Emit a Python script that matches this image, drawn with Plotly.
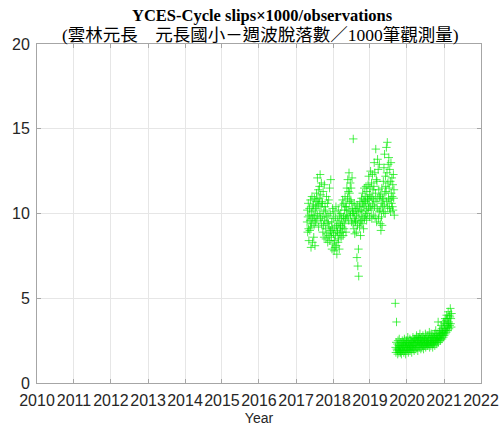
import pandas as pd
import plotly.graph_objects as go

# Daily-ish cycle-slip ratios (slips per 1000 observations), sampled every 3 days
period1_start = "2017-04-20"
period1_values = [
    9.5, 10.2, 8.9, 9.8, 10.6, 9.1, 8.4, 9.9, 10.3, 9.0,
    9.6, 10.8, 9.2, 8.0, 10.1, 9.4, 11.0, 9.7, 8.3, 10.4,
    9.9, 10.5, 8.6, 9.3, 10.9, 9.8, 8.1, 10.2, 9.5, 10.7,
    10.3, 11.2, 9.6, 10.8, 12.1, 9.9, 10.5, 11.4, 9.2, 10.6,
    10.9, 11.6, 10.0, 12.3, 9.7, 11.1, 10.4, 11.8, 9.4, 10.7,
    9.8, 10.6, 8.9, 11.3, 9.3, 10.1, 8.6, 11.7, 9.6, 10.4,
    9.1, 10.2, 8.5, 9.8, 11.0, 8.8, 9.5, 10.6, 8.3, 9.9,
    9.4, 10.8, 8.7, 9.2, 11.5, 8.4, 10.0, 9.0, 12.0, 8.9,
    8.6, 9.5, 7.9, 9.1, 10.3, 8.2, 9.7, 8.8, 10.1, 7.8,
    8.4, 9.2, 8.0, 9.8, 8.7, 10.4, 8.1, 9.3, 7.6, 9.0,
    8.9, 9.6, 8.3, 10.2, 8.5, 9.4, 7.9, 9.9, 8.8, 9.1,
    9.3, 10.0, 8.6, 9.7, 10.5, 8.9, 9.2, 10.8, 9.5, 8.7,
    9.8, 10.6, 9.1, 10.2, 9.4, 11.0, 9.7, 10.4, 8.9, 9.9,
    10.4, 11.5, 9.8, 10.9, 12.0, 10.2, 11.3, 9.6, 12.4, 10.7,
    11.2, 10.1, 11.8, 9.9, 10.8, 11.5, 9.5, 10.6, 12.1, 10.0,
    10.3, 9.4, 14.4, 10.0, 9.1, 10.6, 9.7, 8.8, 10.2, 9.5,
    9.6, 10.3, 8.9, 9.9, 7.4, 10.5, 9.3, 6.9, 10.1, 7.9,
    6.3, 9.8, 10.4, 9.2, 10.7, 9.5, 8.7, 10.2, 9.6, 10.9,
    10.1, 9.4, 10.6, 11.2, 9.8, 10.4, 9.1, 10.8, 11.5, 9.7,
    10.5, 11.0, 9.9, 10.7, 11.6, 10.2, 9.6, 11.3, 10.0, 10.8,
    10.9, 11.7, 10.3, 12.2, 10.6, 11.1, 9.8, 11.5, 10.4, 12.5,
    11.0, 10.2, 11.8, 9.7, 10.9, 12.3, 10.5, 11.4, 9.9, 10.8,
    11.6, 13.0, 10.4, 12.4, 9.8, 11.2, 13.8, 10.7, 12.0, 9.5,
    11.9, 10.3, 13.2, 10.9, 12.6, 9.7, 11.4, 10.1, 12.9, 11.0,
    10.2, 9.4, 11.1, 9.0, 10.6, 9.8, 11.5, 9.3, 10.4, 10.9,
    10.8, 11.9, 10.1, 12.7, 10.5, 13.5, 11.2, 10.0, 12.2, 11.6,
    11.3, 13.9, 10.7, 12.4, 14.2, 10.4, 11.8, 12.9, 10.9, 13.3,
    11.5, 10.3, 12.6, 10.8, 11.9, 10.1, 13.0, 11.2, 10.6, 12.1,
    11.0, 10.4, 11.7, 10.2, 12.3, 10.9, 11.4, 9.9,
]

period2_start = "2019-09-08"
period2_values = [
    4.7, 2.1, 1.8, 2.4, 3.6, 2.0,
    1.9, 2.3, 1.7, 2.5, 2.0, 2.2, 1.8, 2.6, 2.1, 1.9,
    2.2, 1.8, 2.4, 2.0, 1.7, 2.3, 2.1, 2.5, 1.9, 2.2,
    2.0, 2.4, 1.8, 2.2, 2.6, 1.9, 2.1, 2.3, 1.7, 2.4,
    2.1, 2.5, 1.9, 2.3, 2.0, 2.7, 2.2, 1.8, 2.4, 2.1,
    2.3, 2.0, 2.6, 1.9, 2.2, 2.5, 2.1, 2.4, 1.8, 2.2,
    2.4, 2.1, 2.7, 2.0, 2.3, 2.5, 1.9, 2.6, 2.2, 2.4,
    2.2, 2.6, 2.0, 2.4, 2.8, 2.1, 2.3, 2.5, 1.9, 2.7,
    2.5, 2.2, 2.7, 2.1, 2.4, 2.9, 2.3, 2.6, 2.0, 2.4,
    2.3, 2.7, 2.1, 2.5, 2.2, 2.8, 2.4, 2.0, 2.6, 2.3,
    2.6, 2.2, 2.5, 2.9, 2.1, 2.4, 2.7, 2.3, 2.5, 2.2,
    2.4, 2.8, 2.2, 2.6, 2.3, 2.5, 3.0, 2.1, 2.7, 2.4,
    2.5, 2.2, 2.9, 2.4, 2.7, 2.3, 2.6, 2.1, 2.8, 2.5,
    2.3, 2.7, 2.4, 2.9, 2.2, 2.6, 2.5, 3.1, 2.4, 2.8,
    2.6, 2.3, 2.9, 2.5, 2.7, 3.6, 2.4, 2.8, 2.6, 3.0,
    2.7, 3.1, 2.5, 2.9, 2.6, 3.4, 2.8, 3.2, 2.6, 3.0,
    2.9, 3.3, 2.7, 3.6, 3.0, 2.8, 3.5, 3.1, 3.8, 2.9,
    3.2, 3.7, 3.0, 4.0, 3.4, 3.1, 3.8, 3.3, 4.2, 3.5,
    3.6, 3.2, 4.0, 3.4, 3.9, 4.4, 3.5, 3.8, 3.3, 4.1,
]

year_labels = [str(y) for y in range(2010, 2023)]
y_ticks = [0, 5, 10, 15, 20]

title_line1 = "YCES-Cycle slips×1000/observations"
title_line2 = "(雲林元長　元長國小－週波脫落數／1000筆觀測量)"

dates = list(pd.date_range(period1_start, periods=len(period1_values), freq="3D")) + \
        list(pd.date_range(period2_start, periods=len(period2_values), freq="3D"))
values = period1_values + period2_values

marker_green = "rgba(0,235,0,0.7)"
fig = go.Figure(go.Scatter(
    x=dates, y=values, mode="markers",
    marker=dict(symbol="cross-thin-open", size=6, color=marker_green,
                line=dict(width=1, color=marker_green)),
    hoverinfo="skip",
))

axis_gray = "#a6a6a6"
tick_font = dict(family="Liberation Sans, Arial, sans-serif", size=16, color="#262626")

fig.update_xaxes(
    type="date", range=["2010-01-01", "2022-01-01"],
    tickvals=[f"{y}-01-01" for y in year_labels], ticktext=year_labels,
    tickangle=0, automargin=False, ticklabelstandoff=3,
    showgrid=True, gridcolor="#e6e6e6", gridwidth=1,
    showline=True, linecolor=axis_gray, linewidth=1, mirror="ticks",
    ticks="inside", ticklen=4, tickcolor=axis_gray,
    tickfont=tick_font, zeroline=False,
    title=dict(text="Year", font=dict(family="Liberation Sans, Arial, sans-serif",
                                      size=14, color="#262626"), standoff=6),
)
fig.update_yaxes(
    range=[0, 20], tickvals=y_ticks, automargin=False, ticklabelstandoff=3,
    showgrid=True, gridcolor="#e6e6e6", gridwidth=1,
    showline=True, linecolor=axis_gray, linewidth=1, mirror="ticks",
    ticks="inside", ticklen=4, tickcolor=axis_gray,
    tickfont=tick_font, zeroline=False,
)

serif = "Liberation Serif, Times New Roman, Noto Sans CJK TC, serif"
fig.add_annotation(text=f"<b>{title_line1}</b>", xref="paper", yref="paper",
                   x=0.5, y=1, xshift=3, yshift=29, showarrow=False, yanchor="middle",
                   font=dict(family=serif, size=16.5, color="#000000"))
fig.add_annotation(text=title_line2, xref="paper", yref="paper",
                   x=0.5, y=1, xshift=1, yshift=9, showarrow=False, yanchor="middle",
                   font=dict(family=serif, size=17.5, color="#000000"))

fig.update_layout(
    width=504, height=426,
    margin=dict(l=37, r=23, t=44, b=43),
    plot_bgcolor="white", paper_bgcolor="white",
    showlegend=False,
)

fig.write_html("out.html")
